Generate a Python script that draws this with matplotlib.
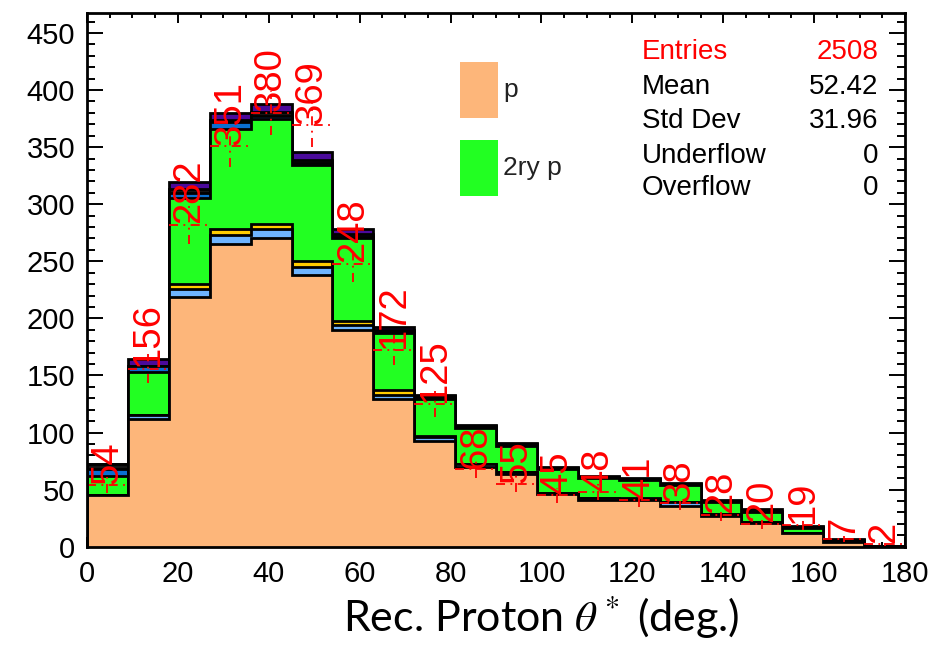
import numpy as np
import matplotlib
matplotlib.use("Agg")
import matplotlib.pyplot as plt
from matplotlib.patches import Rectangle
from matplotlib.ticker import MultipleLocator

plt.rcParams['mathtext.fontset'] = 'stix'

# ---- data ----
bin_edges = np.arange(0, 181, 9)  # 20 bins of 9 deg
p_vals      = [45, 112, 219, 265, 270, 238, 190, 129, 93, 70, 64, 46, 41, 41, 36, 27, 21, 12, 4, 0]
lblue_vals  = [0, 3, 7, 8, 8, 7, 4, 4, 3, 2, 1, 1, 2, 1, 3, 2, 1, 0, 0, 0]
yellow_vals = [0, 0, 4, 5, 5, 5, 4, 4, 1, 0, 0, 0, 0, 1, 0, 0, 0, 0, 0, 0]
p2ry_vals   = [17, 38, 75, 88, 92, 84, 72, 50, 32, 32, 23, 21, 17, 15, 15, 10, 8, 4, 2, 0]
blue_vals   = [6, 5, 5, 6, 2, 2, 1, 1, 1, 1, 1, 0, 0, 0, 0, 0, 0, 0, 0, 0]
dark_vals   = [4, 0, 3, 2, 4, 3, 3, 2, 2, 1, 1, 1, 1, 1, 1, 1, 1, 1, 0, 1]
purple_vals = [0, 6, 6, 6, 7, 7, 4, 2, 1, 1, 1, 1, 1, 1, 1, 1, 2, 1, 1, 0]
data_vals   = [54, 156, 282, 351, 380, 369, 248, 172, 125, 68, 55, 45, 48, 41, 38, 28, 20, 19, 7, 2]

layers = [
    (p_vals, "#FDB67A"),
    (lblue_vals, "#6EB4FF"),
    (yellow_vals, "#FFCC00"),
    (p2ry_vals, "#22FF22"),
    (blue_vals, "#0A6FD0"),
    (dark_vals, "#151515"),
    (purple_vals, "#4A0A9A"),
]

legend_labels = ["p", "2ry p"]
legend_colors = ["#FDB67A", "#22FF22"]
stats_names = ["Entries", "Mean", "Std Dev", "Underflow", "Overflow"]
stats_values = ["2508", "52.42", "31.96", "0", "0"]
stats_colors = ["#FF0000", "black", "black", "black", "black"]

W, H = 949, 649
fig = plt.figure(figsize=(W / 100, H / 100), dpi=100)
ax = fig.add_axes([87 / W, 1 - 546.7 / H, 818 / W, (546.7 - 13.3) / H])

# stacked histogram, drawn from top-most cumulative down
cums = np.cumsum([np.array(v, dtype=float) for v, _ in layers], axis=0)
for i in range(len(layers) - 1, -1, -1):
    ax.stairs(cums[i], bin_edges, baseline=0, fill=True,
              facecolor=layers[i][1], edgecolor="black", linewidth=2.0,
              zorder=2 + (len(layers) - i))

# data points with error bars (dash-dot red) and value labels
centers = 0.5 * (bin_edges[:-1] + bin_edges[1:])
d = np.array(data_vals, dtype=float)
err = np.sqrt(d)
ls = (0, (5, 3, 1, 3))
ax.hlines(d, bin_edges[:-1], bin_edges[1:], colors="red", linestyles=[ls], linewidth=1.3, zorder=20)
ax.vlines(centers, d - err, d + err, colors="red", linestyles=[ls], linewidth=1.3, zorder=20)
for x, v in zip(centers, data_vals):
    ax.annotate(str(v), (x, v), xytext=(0, 1), textcoords="offset points",
                rotation=90, ha="center", va="bottom", color="red",
                fontsize=27.5, family="Liberation Sans", zorder=21,
                annotation_clip=False)

ax.set_xlim(0, 180)
ax.set_ylim(0, 467.2)
ax.xaxis.set_major_locator(MultipleLocator(20))
ax.xaxis.set_minor_locator(MultipleLocator(5))
ax.yaxis.set_major_locator(MultipleLocator(50))
ax.yaxis.set_minor_locator(MultipleLocator(10))
ax.tick_params(axis="both", which="both", direction="in", top=True, right=True, width=1.4, colors="black")
ax.tick_params(axis="y", which="major", length=11.5, pad=8.5, labelsize=21)
ax.tick_params(axis="y", which="minor", length=5.8)
ax.tick_params(axis="x", which="major", length=7.2, pad=9.5, labelsize=21)
ax.tick_params(axis="x", which="minor", length=3.6)
for lab in ax.get_xticklabels() + ax.get_yticklabels():
    lab.set_family("Liberation Sans")
for s in ax.spines.values():
    s.set_linewidth(2.0)
    s.set_zorder(30)

# x-axis title
fig.text(541.5 / W, 1 - 617 / H, r"Rec. Proton $\theta^*$ (deg.)", ha="center", va="center",
         fontsize=31, family="Lato", color="black")

# legend (manual)
leg_tops = [62, 140]
for lab, col, top in zip(legend_labels, legend_colors, leg_tops):
    fig.patches.append(Rectangle((460 / W, 1 - (top + 56) / H), 38 / W, 56 / H,
                                 transform=fig.transFigure, facecolor=col, edgecolor="none"))
    fig.text(503 / W, 1 - (top + 28) / H, lab, ha="left", va="center",
             fontsize=19, family="Liberation Sans", color="#222222")

# stats box
stat_y = [51.7, 86.7, 120.7, 156, 188]
for nm, val, col, y in zip(stats_names, stats_values, stats_colors, stat_y):
    fig.text(642 / W, 1 - y / H, nm, ha="left", va="center", fontsize=20,
             family="Liberation Sans", color=col)
    fig.text(878 / W, 1 - y / H, val, ha="right", va="center", fontsize=20,
             family="Liberation Sans", color=col)

fig.savefig("out.png", dpi=100)
